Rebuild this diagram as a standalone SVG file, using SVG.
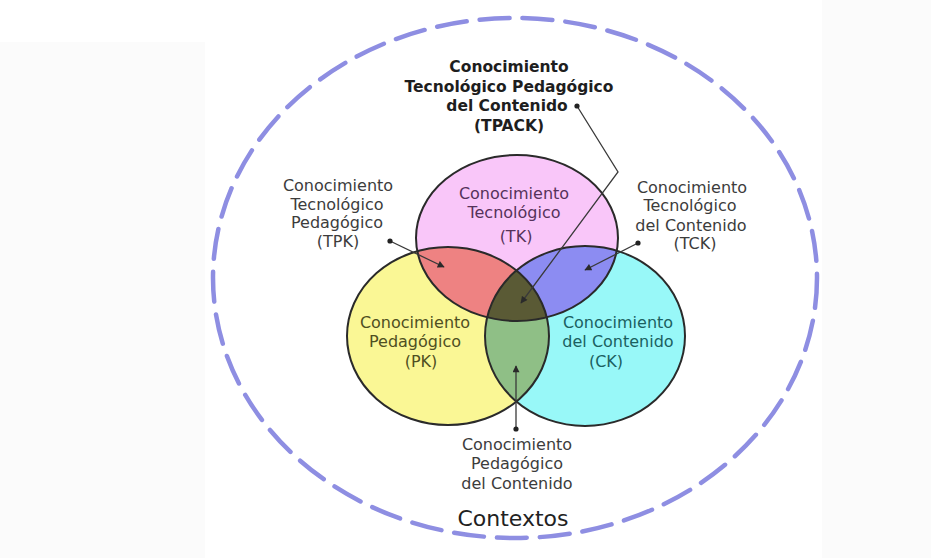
<svg xmlns="http://www.w3.org/2000/svg" width="931" height="558" viewBox="0 0 931 558">
<style>
  text { font-family: "DejaVu Sans", "Liberation Sans", sans-serif; text-anchor: middle; }
  .lbl { font-size: 16px; fill: #3c3c3c; }
  .bold { font-size: 15.5px; font-weight: bold; fill: #1e1e1e; }
  .tk { font-size: 16px; fill: #55325a; }
  .pk { font-size: 16px; fill: #4f4f22; }
  .ck { font-size: 16px; fill: #1b6060; }
  .ctx { font-size: 22px; fill: #222222; }
  .outline { fill: none; stroke: #2a2a2a; stroke-width: 2; }
  .conn { fill: none; stroke: #3a3a3a; stroke-width: 1.3; }
  .dot { fill: #222222; }
</style>
<defs>
  <clipPath id="cP"><ellipse cx="517" cy="238" rx="101" ry="83"/></clipPath>
  <clipPath id="cY"><ellipse cx="448" cy="336" rx="101" ry="89"/></clipPath>
  <marker id="arr" viewBox="0 0 10 10" refX="9" refY="5" markerWidth="8" markerHeight="7" markerUnits="userSpaceOnUse" orient="auto">
    <path d="M0,0 L10,5 L0,10 Z" fill="#2a2a2a"/>
  </marker>
</defs>

<rect x="0" y="0" width="931" height="558" fill="#ffffff"/>
<rect x="0" y="42" width="205" height="516" fill="#fbfbfb"/>
<rect x="822" y="0" width="109" height="558" fill="#fbfbfb"/>

<g id="contexts">
  <ellipse cx="515" cy="278" rx="302" ry="260" fill="none" stroke="#8e8ee2" stroke-width="4.5" stroke-dasharray="30 13" stroke-linecap="round"/>
  <text class="ctx" x="513" y="526">Contextos</text>
</g>

<g id="venn-fills">
  <ellipse cx="517" cy="238" rx="101" ry="83" fill="#f9c6f9"/>
  <ellipse cx="448" cy="336" rx="101" ry="89" fill="#faf795"/>
  <ellipse cx="585" cy="336" rx="100" ry="90" fill="#98f8f8"/>
  <ellipse cx="448" cy="336" rx="101" ry="89" fill="#ee8282" clip-path="url(#cP)"/>
  <ellipse cx="585" cy="336" rx="100" ry="90" fill="#8c8cf2" clip-path="url(#cP)"/>
  <ellipse cx="585" cy="336" rx="100" ry="90" fill="#8fbf86" clip-path="url(#cY)"/>
  <g clip-path="url(#cP)">
    <ellipse cx="585" cy="336" rx="100" ry="90" fill="#5a5a35" clip-path="url(#cY)"/>
  </g>
</g>

<g id="TK">
  <ellipse class="outline" cx="517" cy="238" rx="101" ry="83"/>
  <text class="tk" x="514" y="199">Conocimiento</text>
  <text class="tk" x="514" y="218">Tecnológico</text>
  <text class="tk" x="516" y="242">(TK)</text>
</g>

<g id="PK">
  <ellipse class="outline" cx="448" cy="336" rx="101" ry="89"/>
  <text class="pk" x="415" y="328">Conocimiento</text>
  <text class="pk" x="415" y="347">Pedagógico</text>
  <text class="pk" x="421" y="367">(PK)</text>
</g>

<g id="CK">
  <ellipse class="outline" cx="585" cy="336" rx="100" ry="90"/>
  <text class="ck" x="618" y="328">Conocimiento</text>
  <text class="ck" x="618" y="347">del Contenido</text>
  <text class="ck" x="606" y="367">(CK)</text>
</g>

<g id="TPACK">
  <text class="bold" x="509" y="72">Conocimiento</text>
  <text class="bold" x="509" y="91.5">Tecnológico Pedagógico</text>
  <text class="bold" x="507" y="111">del Contenido</text>
  <text class="bold" x="509" y="130.5">(TPACK)</text>
</g>

<g id="TPK">
  <text class="lbl" x="338" y="191">Conocimiento</text>
  <text class="lbl" x="337" y="209.5">Tecnológico</text>
  <text class="lbl" x="337" y="228">Pedagógico</text>
  <text class="lbl" x="338" y="247">(TPK)</text>
</g>

<g id="TCK">
  <text class="lbl" x="692" y="193">Conocimiento</text>
  <text class="lbl" x="690" y="211">Tecnológico</text>
  <text class="lbl" x="691" y="231">del Contenido</text>
  <text class="lbl" x="695" y="249">(TCK)</text>
</g>

<g id="PCK">
  <text class="lbl" x="517" y="450">Conocimiento</text>
  <text class="lbl" x="517" y="469">Pedagógico</text>
  <text class="lbl" x="517" y="489">del Contenido</text>
</g>

<g id="connectors">
  <polyline class="conn" points="577,106 618,172 521,303" marker-end="url(#arr)"/>
  <circle class="dot" cx="577" cy="106" r="2.6"/>
  <line class="conn" x1="390" y1="241" x2="444" y2="267" marker-end="url(#arr)"/>
  <circle class="dot" cx="390" cy="241" r="2.6"/>
  <line class="conn" x1="638" y1="243" x2="585" y2="270" marker-end="url(#arr)"/>
  <circle class="dot" cx="638" cy="243" r="2.6"/>
  <line class="conn" x1="516" y1="429" x2="516" y2="366" marker-end="url(#arr)"/>
  <circle class="dot" cx="516" cy="429" r="2.6"/>
</g>
</svg>
